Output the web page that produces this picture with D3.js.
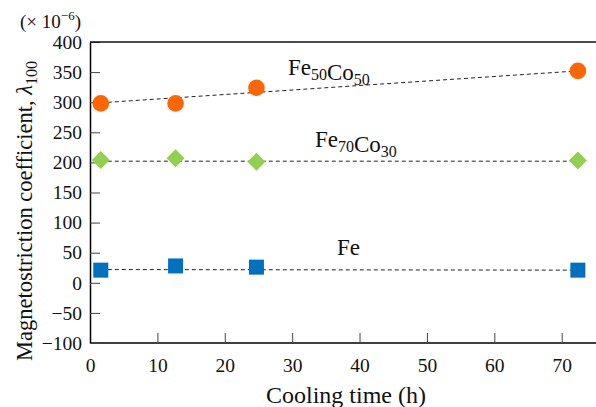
<!DOCTYPE html>
<html>
<head>
<meta charset="utf-8">
<script src="https://cdn.jsdelivr.net/npm/d3@7"></script>
<style>
  body { margin: 0; background: #fff; }
  svg text { font-family: "Liberation Serif", "Times New Roman", serif; }
</style>
</head>
<body>
<svg id="canvas" width="596" height="407"></svg>
<script>
(function () {
    // cooling time (h) for every sample
    const times = [1.6, 12.7, 24.7, 72.4];

    // magnetostriction values (x 10^-6)
    const feCo50 = [298, 298, 324, 352];
    const feCo30 = [204, 207, 201, 203];
    const fe = [21, 28, 26, 21];

    // dashed trend lines, [start, end] values
    const trend50 = [299, 352];
    const trend30 = [202, 202];
    const trendFe = [22, 21];

    const xTicks = [0, 10, 20, 30, 40, 50, 60, 70];
    const yTicks = [-100, -50, 0, 50, 100, 150, 200, 250, 300, 350, 400];

    const svg = d3.select("#canvas");
    const left = 90, top = 42, bottom = 343;

    const x = d3.scaleLinear().domain([0, 70]).range([left, 561.7]);
    const y = d3.scaleLinear().domain([-100, 400]).range([bottom, top]);

    // axes, ticks pointing inside
    const xAxis = svg.append("g")
        .attr("transform", `translate(0,${bottom})`)
        .call(d3.axisBottom(x).tickValues(xTicks).tickSizeInner(-10).tickSizeOuter(0).tickPadding(15));
    xAxis.select(".domain").attr("d", `M${left},0H700`).attr("stroke-width", 1.5);

    const yAxis = svg.append("g")
        .attr("transform", `translate(${left},0)`)
        .call(d3.axisLeft(y).tickValues(yTicks).tickSizeInner(-10).tickSizeOuter(0).tickPadding(8));
    yAxis.select(".domain").attr("stroke-width", 1.5);

    xAxis.attr("font-family", null).attr("font-size", 19.5);
    yAxis.attr("font-family", null).attr("font-size", 19.5);
    svg.selectAll(".tick text").attr("fill", "#111");
    svg.selectAll(".tick line").attr("stroke", "#444");

    // top frame
    svg.append("line")
        .attr("x1", left).attr("x2", 700)
        .attr("y1", y(400)).attr("y2", y(400))
        .attr("stroke", "#111").attr("stroke-width", 1.5);

    // trend lines
    const trends = [trend50, trend30, trendFe];
    svg.append("g").selectAll("line")
        .data(trends)
        .join("line")
        .attr("x1", x(times[0])).attr("x2", x(times[times.length - 1]))
        .attr("y1", d => y(d[0])).attr("y2", d => y(d[1]))
        .attr("stroke", "#222").attr("stroke-width", 1)
        .attr("stroke-dasharray", "4,3");

    // Fe50Co50 circles
    svg.append("g").selectAll("circle")
        .data(times)
        .join("circle")
        .attr("cx", d => x(d))
        .attr("cy", (d, i) => y(feCo50[i]))
        .attr("r", 8.3)
        .attr("fill", "#FF6600");

    // Fe70Co30 diamonds
    svg.append("g").selectAll("path")
        .data(times)
        .join("path")
        .attr("transform", (d, i) => `translate(${x(d)},${y(feCo30[i])})`)
        .attr("d", "M0,-9L9,0L0,9L-9,0Z")
        .attr("fill", "#92D050");

    // Fe squares
    svg.append("g").selectAll("rect")
        .data(times)
        .join("rect")
        .attr("x", d => x(d) - 7.5)
        .attr("y", (d, i) => y(fe[i]) - 7.5)
        .attr("width", 15).attr("height", 15)
        .attr("fill", "#0070C0");

    // series labels
    function label(xp, yp, main, subs) {
        const t = svg.append("text").attr("x", xp).attr("y", yp)
            .attr("font-size", 23).attr("fill", "#111");
        main.forEach((m, i) => {
            t.append("tspan").text(m);
            if (subs[i]) {
                t.append("tspan").attr("font-size", 16).attr("dy", 5).text(subs[i]);
                t.append("tspan").attr("dy", -5).text("");
            }
        });
    }
    label(288, 75, ["Fe", "Co"], ["50", "50"]);
    label(315, 147, ["Fe", "Co"], ["70", "30"]);
    label(337, 255, ["Fe"], []);

    // axis titles
    svg.append("text")
        .attr("x", 346).attr("y", 403)
        .attr("text-anchor", "middle")
        .attr("font-size", 24).attr("fill", "#111")
        .text("Cooling time (h)");

    const yt = svg.append("text")
        .attr("transform", "translate(32,211) rotate(-90)")
        .attr("text-anchor", "middle")
        .attr("font-size", 22.5).attr("fill", "#111");
    yt.append("tspan").text("Magnetostriction  coefficient, ");
    yt.append("tspan").attr("font-style", "italic").text("λ");
    yt.append("tspan").attr("font-size", 16).attr("dy", 5).text("100");

    const unit = svg.append("text")
        .attr("x", 20).attr("y", 28)
        .attr("font-size", 19).attr("fill", "#111");
    unit.append("tspan").text("(\u00d7 10");
    unit.append("tspan").attr("font-size", 13).attr("dy", -8).text("\u22126");
    unit.append("tspan").attr("dy", 8).text(")");
})();
</script>
</body>
</html>
